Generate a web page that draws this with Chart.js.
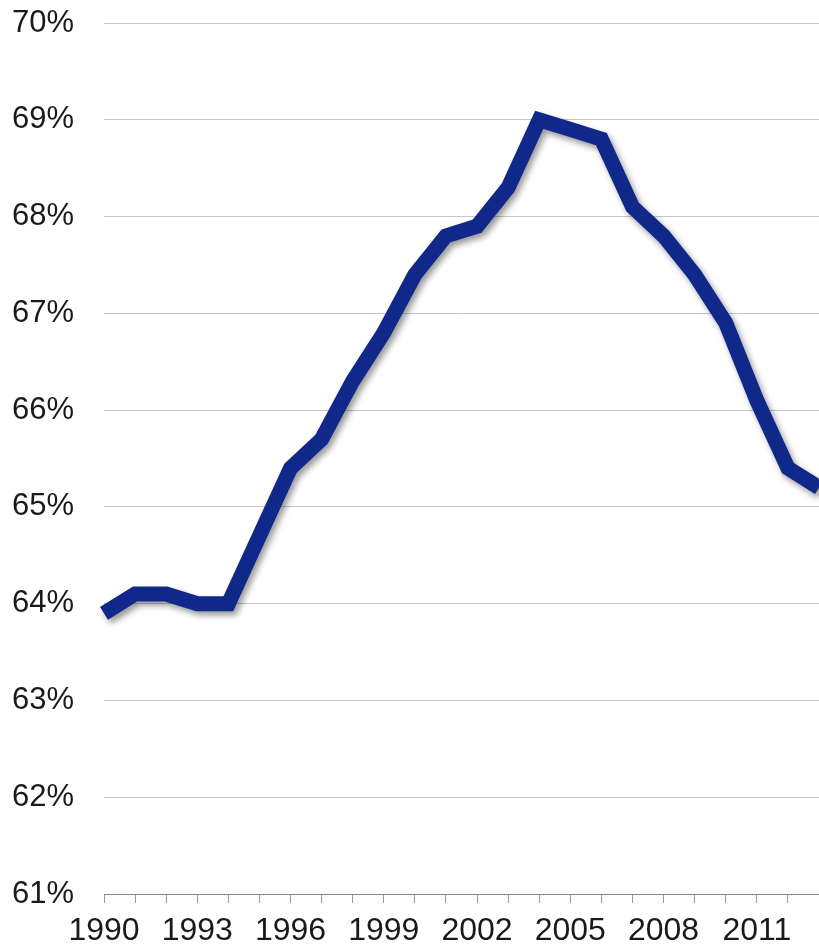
<!DOCTYPE html>
<html>
<head>
<meta charset="utf-8">
<script src="https://cdn.jsdelivr.net/npm/chart.js@4"></script>
<style>
  html, body { margin: 0; padding: 0; background: #ffffff; }
  #wrap { width: 819px; height: 947px; position: relative; }
</style>
</head>
<body>
<div id="wrap"><canvas id="chart"></canvas></div>
<script>
// Homeownership rate, 1990-2013
const years = ['1990','1991','1992','1993','1994','1995','1996','1997','1998','1999','2000','2001',
               '2002','2003','2004','2005','2006','2007','2008','2009','2010','2011','2012','2013'];
const rates = [63.9, 64.1, 64.1, 64.0, 64.0, 64.7, 65.4, 65.7, 66.3, 66.8, 67.4, 67.8,
               67.9, 68.3, 69.0, 68.9, 68.8, 68.1, 67.8, 67.4, 66.9, 66.1, 65.4, 65.2];
const labelYears = ['1990','1993','1996','1999','2002','2005','2008','2011'];

const LINE_COLOR = '#10288a';
const TEXT_COLOR = '#1a1a1a';
const FONT = 'Liberation Sans, Arial, sans-serif';

// soft drop shadow under the line, like the office-chart look
const shadowPlugin = {
  id: 'lineShadow',
  beforeDatasetDraw(chart) {
    const ctx = chart.ctx;
    ctx.save();
    ctx.shadowColor = 'rgba(0, 0, 0, 0.4)';
    ctx.shadowBlur = 6;
    ctx.shadowOffsetX = 3;
    ctx.shadowOffsetY = 4;
  },
  afterDatasetDraw(chart) {
    chart.ctx.restore();
  }
};

new Chart(document.getElementById('chart'), {
  type: 'line',
  data: {
    labels: years,
    datasets: [{
      data: rates,
      borderColor: LINE_COLOR,
      borderWidth: 15,
      pointRadius: 0,
      tension: 0,
      fill: false
    }]
  },
  plugins: [shadowPlugin],
  options: {
    responsive: true,
    maintainAspectRatio: false,
    animation: false,
    layout: { padding: { left: 12, top: 23, right: 0, bottom: 0 } },
    plugins: {
      legend: { display: false },
      tooltip: { enabled: false }
    },
    scales: {
      x: {
        offset: false,
        grid: { drawOnChartArea: false, tickLength: 9, color: '#9a9a9a' },
        border: { color: '#8a8a8a' },
        ticks: {
          autoSkip: false,
          maxRotation: 0,
          padding: 9,
          color: TEXT_COLOR,
          font: { family: FONT, size: 32 },
          callback: function(value) {
            const y = this.getLabelForValue(value);
            return labelYears.includes(y) ? y : '';
          }
        },
        afterFit: (scale) => {
          scale.height = 53;
          scale.paddingRight = 0;
        }
      },
      y: {
        min: 61,
        max: 70,
        grid: { color: '#c6c6c6', drawTicks: false },
        border: { display: false },
        ticks: {
          stepSize: 1,
          crossAlign: 'far',
          color: TEXT_COLOR,
          font: { family: FONT, size: 31 },
          callback: (v) => v + '%'
        },
        afterFit: (scale) => { scale.width = 92; }
      }
    }
  }
});
</script>
</body>
</html>
